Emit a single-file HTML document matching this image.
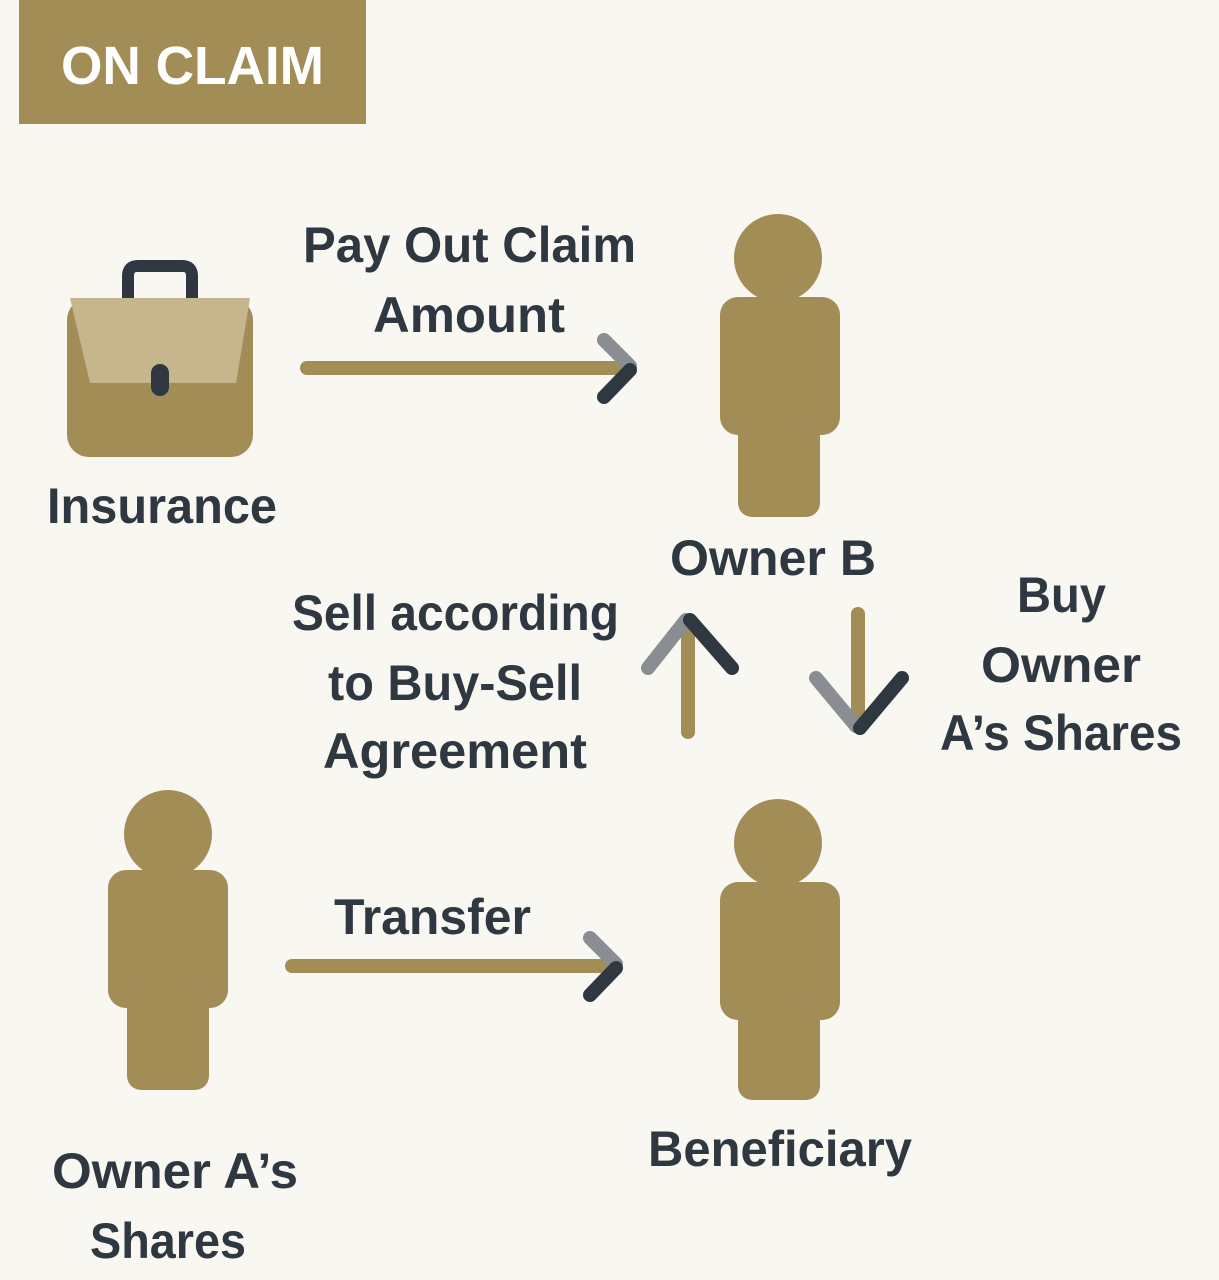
<!DOCTYPE html>
<html><head><meta charset="utf-8"><style>
html,body{margin:0;padding:0;background:#f8f7f2;}
svg{display:block}
text{font-family:"Liberation Sans",sans-serif;font-weight:bold;fill:#2f3741;font-size:50px}
</style></head><body>
<svg width="1219" height="1280" viewBox="0 0 1219 1280" xmlns="http://www.w3.org/2000/svg">
<rect width="1219" height="1280" fill="#f8f7f2"/>
<rect x="19" y="0" width="347" height="124" fill="#a38d57"/>
<text x="61" y="84" textLength="263" lengthAdjust="spacingAndGlyphs" style="fill:#fff;font-size:54px">ON CLAIM</text>

<!-- briefcase -->
<path d="M128 300 V276 Q128 266 138 266 H182 Q192 266 192 276 V300" fill="none" stroke="#2f3741" stroke-width="12"/>
<rect x="67" y="298" width="186" height="159" rx="22" fill="#a38d57"/>
<path d="M70 298 H250 L236 383 H90 Z" fill="#c6b68e"/>
<rect x="151" y="364" width="18" height="32" rx="9" fill="#2f3741"/>

<!-- persons -->
<g fill="#a38d57">
<circle cx="778" cy="258" r="44"/>
<rect x="720" y="297" width="120" height="138" rx="18"/>
<rect x="738" y="420" width="82" height="97" rx="14"/>
<circle cx="168" cy="834" r="44"/>
<rect x="108" y="870" width="120" height="138" rx="18"/>
<rect x="127" y="990" width="82" height="100" rx="14"/>
<circle cx="778" cy="843" r="44"/>
<rect x="720" y="882" width="120" height="138" rx="18"/>
<rect x="738" y="1000" width="82" height="100" rx="14"/>
</g>

<!-- arrows -->
<g stroke-width="14" stroke-linecap="round" fill="none">
<line x1="307" y1="368" x2="626" y2="368" stroke="#a38d57"/>
<line x1="604" y1="340" x2="630" y2="366" stroke="#8a8d92"/>
<line x1="630" y1="370" x2="604" y2="397" stroke="#2f3741"/>

<line x1="292" y1="966" x2="612" y2="966" stroke="#a38d57"/>
<line x1="590" y1="938" x2="616" y2="964" stroke="#8a8d92"/>
<line x1="616" y1="968" x2="590" y2="995" stroke="#2f3741"/>

<line x1="688" y1="732" x2="688" y2="630" stroke="#a38d57"/>
<line x1="648" y1="668" x2="686" y2="620" stroke="#8a8d92"/>
<line x1="690" y1="620" x2="732" y2="668" stroke="#2f3741"/>

<line x1="858" y1="614" x2="858" y2="716" stroke="#a38d57"/>
<line x1="816" y1="678" x2="856" y2="726" stroke="#8a8d92"/>
<line x1="860" y1="728" x2="902" y2="678" stroke="#2f3741"/>
</g>

<text x="303" y="262" textLength="333" lengthAdjust="spacingAndGlyphs">Pay Out Claim</text>
<text x="373" y="332" textLength="192" lengthAdjust="spacingAndGlyphs">Amount</text>
<text x="47" y="523" textLength="230" lengthAdjust="spacingAndGlyphs">Insurance</text>
<text x="670" y="575" textLength="206" lengthAdjust="spacingAndGlyphs">Owner B</text>
<text x="292" y="630" textLength="327" lengthAdjust="spacingAndGlyphs">Sell according</text>
<text x="328" y="700" textLength="254" lengthAdjust="spacingAndGlyphs">to Buy-Sell</text>
<text x="323" y="768" textLength="264" lengthAdjust="spacingAndGlyphs">Agreement</text>
<text x="1017" y="612" textLength="89" lengthAdjust="spacingAndGlyphs">Buy</text>
<text x="981" y="682" textLength="160" lengthAdjust="spacingAndGlyphs">Owner</text>
<text x="940" y="750" textLength="242" lengthAdjust="spacingAndGlyphs">A’s Shares</text>
<text x="334" y="934" textLength="197" lengthAdjust="spacingAndGlyphs">Transfer</text>
<text x="648" y="1166" textLength="264" lengthAdjust="spacingAndGlyphs">Beneficiary</text>
<text x="52" y="1188" textLength="246" lengthAdjust="spacingAndGlyphs">Owner A’s</text>
<text x="90" y="1258" textLength="156" lengthAdjust="spacingAndGlyphs">Shares</text>
</svg>
</body></html>
